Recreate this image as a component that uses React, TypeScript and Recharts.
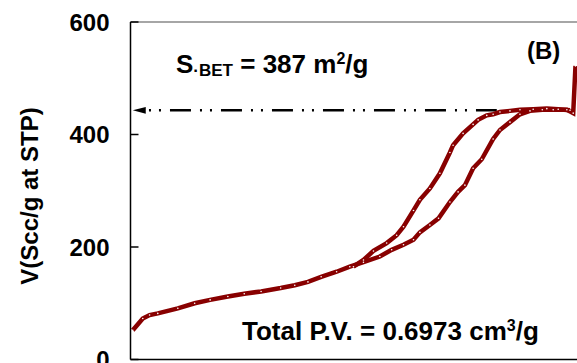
import { LineChart, Line, XAxis, YAxis, ReferenceLine, ReferenceDot } from "recharts";

// N2 isotherm, P/P0 vs adsorbed volume
const adsorptionP = [
  0.005, 0.027, 0.042, 0.06, 0.104, 0.141, 0.175, 0.214, 0.25, 0.287, 0.33, 0.361, 0.39, 0.419,
  0.453, 0.482, 0.512, 0.548, 0.574, 0.6, 0.622, 0.636, 0.658, 0.677, 0.702, 0.72, 0.735, 0.753,
  0.772, 0.797, 0.812, 0.834, 0.856, 0.878, 0.905, 0.929, 0.959, 0.973, 0.978,
];
const adsorptionV = [
  52, 73, 79, 82, 91, 100, 106, 112, 117, 121, 127, 132, 138, 147,
  156, 165, 173, 183, 195, 204, 213, 226, 239, 251, 280, 298, 310, 340,
  356, 392, 408, 422, 436, 442, 444, 444, 444, 438, 522,
];
const desorptionP = [
  0.966, 0.94, 0.915, 0.885, 0.856, 0.834, 0.812, 0.797, 0.783, 0.764, 0.753, 0.731, 0.709, 0.702,
  0.68, 0.658, 0.636, 0.622, 0.6, 0.585, 0.563, 0.534, 0.512, 0.49,
];
const desorptionV = [
  443, 445, 446, 445, 444, 442, 440, 436, 434, 426, 418, 402, 381, 368,
  331, 304, 284, 265, 236, 221, 207, 193, 177, 165,
];
const xTicks = [0, 0.2, 0.4, 0.6, 0.8, 1];
const yTicks = [0, 200, 400, 600];
const betLevel = 443;
const arrowTipP = 0.005;
const dashStartP = 0.034;
const dashEndP = 0.805;

const adsorption = adsorptionP.map((p, i) => ({ p, v: adsorptionV[i] }));
const desorption = desorptionP.map((p, i) => ({ p, v: desorptionV[i] }));

const RED = "#880000";
const FONT = "'Liberation Sans', Arial, sans-serif";
const tickStyle = { fontSize: 24, fontWeight: 700, fill: "#000", fontFamily: FONT };

const Arrow = (props: any) => {
  const { cx, cy } = props;
  return (
    <polygon
      points={`${cx},${cy} ${cx + 13},${cy - 3.4} ${cx + 13},${cy + 3.4}`}
      fill="#000"
    />
  );
};

const text = {
  position: "absolute" as const,
  fontFamily: FONT,
  fontWeight: 700,
  color: "#000",
  whiteSpace: "nowrap" as const,
  lineHeight: 1,
};

export default function App() {
  return (
    <div style={{ position: "fixed", left: 0, top: 0, width: 577, height: 363, overflow: "hidden", background: "#fff" }}>
      <LineChart
        width={610}
        height={400}
        margin={{ top: 22, right: 24.5, left: 0, bottom: 10.5 }}
      >
        <XAxis
          type="number"
          dataKey="p"
          domain={[0, 1]}
          ticks={xTicks}
          height={30}
          tick={false}
          tickSize={-7}
          stroke="#000"
          strokeWidth={1.5}
        />
        <YAxis
          type="number"
          dataKey="v"
          domain={[0, 600]}
          ticks={yTicks}
          width={130.5}
          tick={tickStyle}
          tickSize={-8}
          tickMargin={29}
          stroke="#000"
          strokeWidth={1.5}
        />
        <ReferenceLine y={600} stroke="#888" strokeWidth={1.5} />
        <ReferenceLine x={1} stroke="#888" strokeWidth={1.5} />
        <ReferenceLine
          segment={[{ x: dashStartP, y: betLevel }, { x: dashEndP, y: betLevel }]}
          stroke="#000"
          strokeWidth={2.5}
          strokeDasharray="21 9 2 8 2 9"
          strokeDashoffset={27}
        />
        <ReferenceDot x={arrowTipP} y={betLevel} r={4} shape={Arrow} />
        <Line
          data={adsorption}
          dataKey="v"
          type="linear"
          stroke={RED}
          strokeWidth={4.5}
          dot={{ r: 0.8, fill: "#fff", stroke: "none" }}
          isAnimationActive={false}
        />
        <Line
          data={desorption}
          dataKey="v"
          type="linear"
          stroke={RED}
          strokeWidth={4.5}
          dot={{ r: 0.8, fill: "#fff", stroke: "none" }}
          isAnimationActive={false}
        />
      </LineChart>

      <div
        style={{
          ...text,
          fontSize: 24,
          left: 30,
          top: 196,
          transform: "translate(-50%, -50%) rotate(-90deg)",
        }}
      >
        V(Scc/g at STP)
      </div>

      <div style={{ ...text, fontSize: 26, left: 176, top: 51 }}>
        S<span style={{ fontSize: 17, position: "relative", top: 3 }}>·BET</span> = 387 m
        <span style={{ fontSize: 16, position: "relative", top: -9 }}>2</span>/g
      </div>

      <div style={{ ...text, fontSize: 24, left: 527, top: 39 }}>(B)</div>

      <div style={{ ...text, fontSize: 26, left: 242, top: 317.5 }}>
        Total P.V. = 0.6973 cm<span style={{ fontSize: 16, position: "relative", top: -9 }}>3</span>/g
      </div>
    </div>
  );
}
